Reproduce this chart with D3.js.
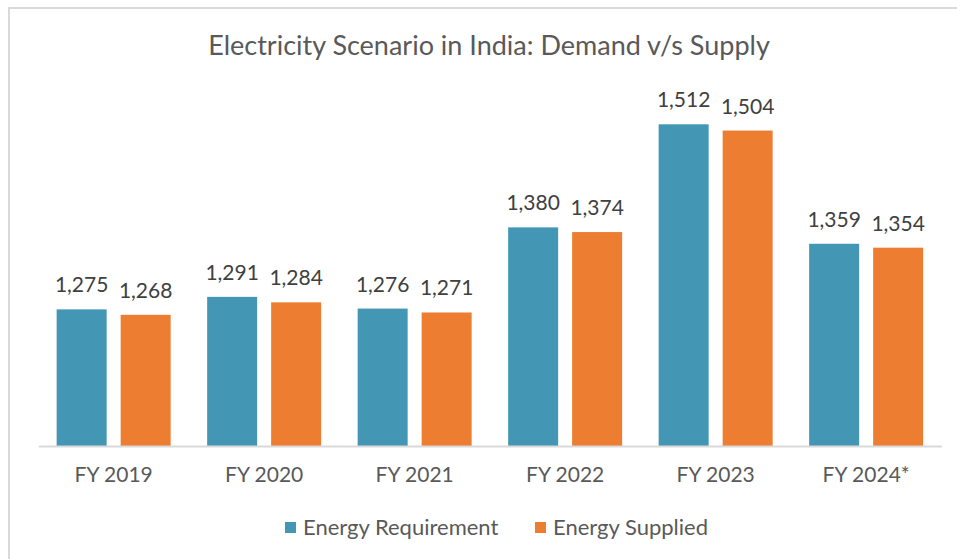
<!DOCTYPE html>
<html>
<head>
<meta charset="utf-8">
<script src="https://cdn.jsdelivr.net/npm/d3@7"></script>
<style>
  html, body { margin: 0; padding: 0; background: #fff; }
  svg { display: block; font-family: Lato, "Open Sans", sans-serif; }
</style>
</head>
<body>
<svg id="chart" width="957" height="559"></svg>
<script>
const categories = ["FY 2019", "FY 2020", "FY 2021", "FY 2022", "FY 2023", "FY 2024*"];
const seriesNames = ["Energy Requirement", "Energy Supplied"];
const requirement = [1275, 1291, 1276, 1380, 1512, 1359];
const supplied = [1268, 1284, 1271, 1374, 1504, 1354];
const colors = ["#4397B5", "#ED7D31"];
const title = "Electricity Scenario in India: Demand v/s Supply";

const rows = categories.map((c, i) => ({ cat: c, values: [requirement[i], supplied[i]] }));

const svg = d3.select("#chart");
svg.append("rect").attr("width", 957).attr("height", 559).attr("fill", "#fff");
// frame edges
svg.append("line").attr("x1", 8).attr("x2", 957).attr("y1", 8).attr("y2", 8)
  .attr("stroke", "#d9d9d9").attr("stroke-width", 2);
svg.append("line").attr("x1", 9).attr("x2", 9).attr("y1", 7).attr("y2", 559)
  .attr("stroke", "#d9d9d9").attr("stroke-width", 2);

const x = d3.scaleBand().domain(categories).range([38.4, 941.4])
  .paddingInner(0.2425).paddingOuter(0.12125);
const xs = d3.scaleBand().domain([0, 1]).range([0, x.bandwidth()]).paddingInner(0.21875).paddingOuter(0);
const y = d3.scaleLinear().domain([1100, 1600]).range([446, 55.6]);

// title
svg.append("text").attr("x", 489).attr("y", 55).attr("text-anchor", "middle")
  .attr("fill", "#595959").style("font-size", "27px").text(title);

const g = svg.append("g");
const groups = g.selectAll("g.cat").data(rows).join("g")
  .attr("transform", d => `translate(${x(d.cat)},0)`);

groups.selectAll("rect").data(d => d.values.map((v, i) => ({ v, i }))).join("rect")
  .attr("x", d => xs(d.i)).attr("width", xs.bandwidth())
  .attr("y", d => y(d.v)).attr("height", d => y(1100) - y(d.v))
  .attr("fill", d => colors[d.i]);

groups.selectAll("text.lbl").data(d => d.values.map((v, i) => ({ v, i }))).join("text")
  .attr("class", "lbl")
  .attr("x", d => xs(d.i) + xs.bandwidth() / 2)
  .attr("y", d => y(d.v) - 17)
  .attr("text-anchor", "middle").attr("fill", "#404040")
  .style("font-size", "21px")
  .text(d => d3.format(",")(d.v));

// x axis
const xAxis = d3.axisBottom(x).tickSize(0).tickPadding(0);
const ax = svg.append("g").attr("transform", "translate(0,446)").call(xAxis);
ax.select(".domain").attr("stroke", "#d9d9d9").attr("stroke-width", 2);
ax.selectAll(".tick text").attr("dy", 0).attr("y", 36)
  .attr("fill", "#595959").style("font-size", "21px").style("font-family", "Lato, sans-serif");

// legend
const legendX = [285, 535];
const leg = svg.append("g");
seriesNames.forEach((s, i) => {
  leg.append("rect").attr("x", legendX[i]).attr("y", 522).attr("width", 11).attr("height", 11)
    .attr("fill", colors[i]);
  leg.append("text").attr("x", legendX[i] + 18).attr("y", 535)
    .attr("fill", "#595959").style("font-size", "22px").text(s);
});
</script>
</body>
</html>
